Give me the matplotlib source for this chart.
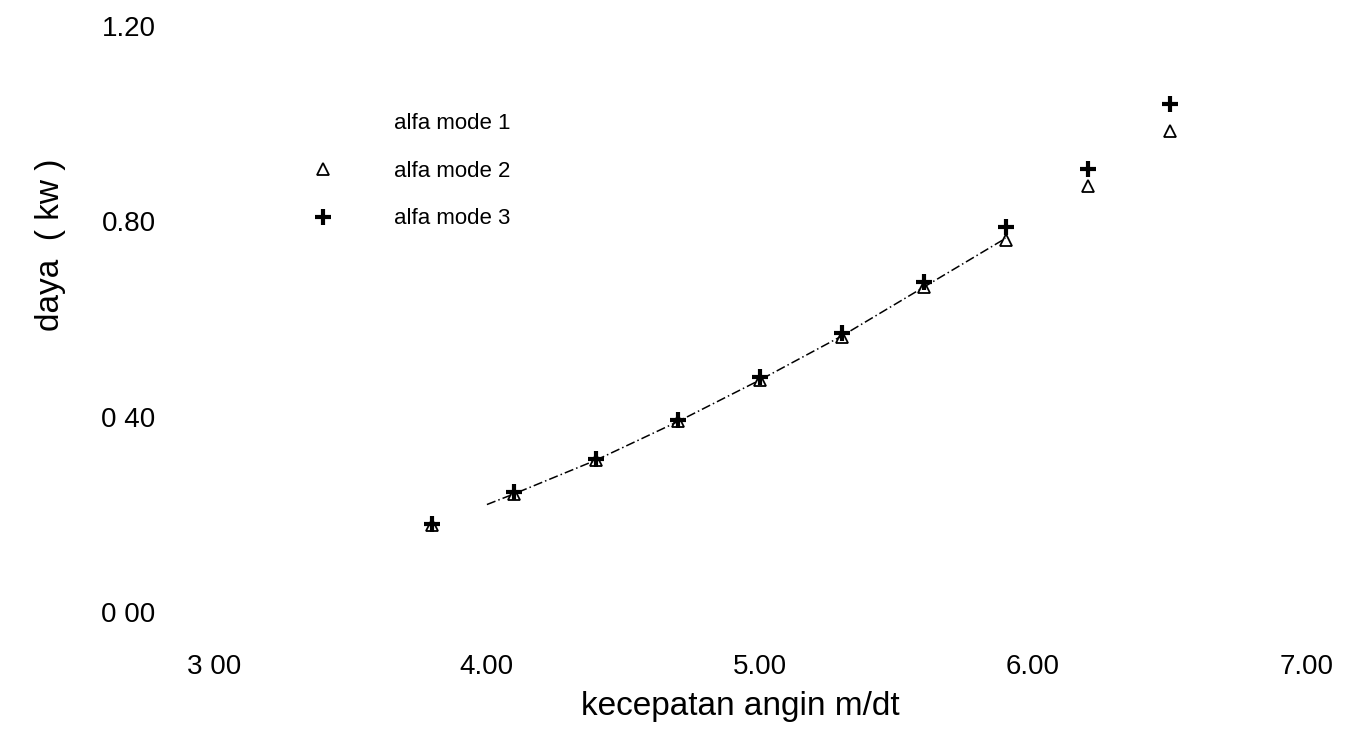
import numpy as np
import matplotlib
matplotlib.use("Agg")
import matplotlib.pyplot as plt
import matplotlib.ticker as ticker

plt.rcParams['font.family'] = ['Liberation Sans', 'DejaVu Sans']

# wind speed (m/dt) and power (kW)
speed_mode1 = [4.0, 4.1, 4.4, 4.7, 5.0, 5.3, 5.6, 5.9]
power_mode1 = [0.22, 0.242, 0.311, 0.39, 0.475, 0.565, 0.665, 0.765]

speed = [3.8, 4.1, 4.4, 4.7, 5.0, 5.3, 5.6, 5.9, 6.2, 6.5]
power_mode2 = [0.178, 0.242, 0.311, 0.39, 0.475, 0.563, 0.665, 0.762, 0.871, 0.984]
power_mode3 = [0.180, 0.245, 0.314, 0.393, 0.48, 0.572, 0.675, 0.787, 0.906, 1.039]

x_ticks = [3.0, 4.0, 5.0, 6.0, 7.0]
y_ticks = [0.0, 0.4, 0.8, 1.2]
x_tick_labels = ['3 00', '4.00', '5.00', '6.00', '7.00']
y_tick_labels = ['0 00', '0 40', '0.80', '1.20']

fig = plt.figure(figsize=(13.62, 7.33), dpi=100)
ax = fig.add_axes([0.157, 0.165, 0.802, 0.80])

line1, = ax.plot(speed_mode1, power_mode1, color='black', linewidth=1.1,
                 linestyle=(0, (6, 2, 1, 2)), label='alfa mode 1')
tri, = ax.plot(speed, power_mode2, linestyle='none', marker='^', markersize=8,
               markerfacecolor='none', markeredgecolor='black', markeredgewidth=1.3,
               label='alfa mode 2')
plus, = ax.plot(speed, power_mode3, linestyle='none', marker='+', markersize=11,
                color='black', markeredgewidth=3, label='alfa mode 3')

ax.set_xlim(3.0, 7.0)
ax.set_ylim(0.0, 1.2)
ax.xaxis.set_major_locator(ticker.FixedLocator(x_ticks))
ax.yaxis.set_major_locator(ticker.FixedLocator(y_ticks))
ax.set_xticklabels(x_tick_labels)
ax.set_yticklabels(y_tick_labels)
ax.tick_params(axis='both', length=0, labelsize=20)
ax.tick_params(axis='x', pad=30)
ax.tick_params(axis='y', pad=42)
for s in ax.spines.values():
    s.set_visible(False)

ax.set_xlabel("kecepatan angin m/dt", fontsize=24)
ax.set_ylabel("daya  ( kw )", fontsize=24)
ax.xaxis.set_label_coords(0.482, -0.135)
ax.yaxis.set_label_coords(-0.135, 0.626)

leg = ax.legend(handles=[line1, tri, plus], loc='upper left',
                bbox_to_anchor=(0.065, 0.885), frameon=False, fontsize=16,
                numpoints=1, handlelength=1.6, handletextpad=2.4, labelspacing=1.2)
leg.get_lines()[0].set_alpha(0.0)

plt.savefig("out.png", dpi=100)
